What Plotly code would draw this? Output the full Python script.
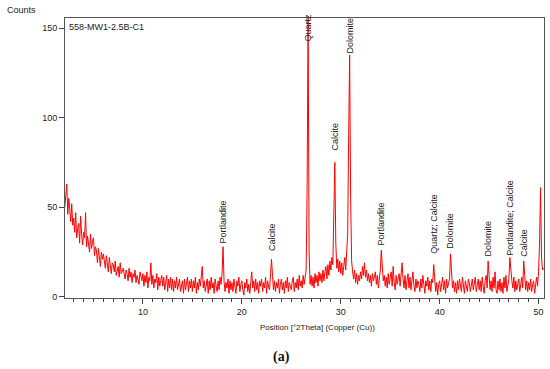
import plotly.graph_objects as go
import numpy as np

# Measurement grid (°2Theta)
theta_start = 2.1
theta_step = 0.1

# Counts, one row per degree
counts = [
    50, 58, 63, 46, 55, 49, 42, 52, 40,            # 2.1-2.9
    44, 36, 47, 33, 38, 41, 30, 45, 35, 29,        # 3
    36, 33, 47, 28, 34, 30, 25, 35, 27, 31,        # 4
    33, 23, 28, 26, 19, 27, 22, 17, 25, 21,        # 5
    24, 18, 16, 23, 19, 14, 22, 17, 13, 19,        # 6
    18, 14, 20, 12, 15, 17, 11, 19, 13, 14,        # 7
    16, 12, 10, 15, 13, 9, 16, 11, 14, 8,          # 8
    13, 11, 15, 8, 12, 10, 7, 14, 11, 9,           # 9
    13, 6, 12, 8, 14, 5, 11, 9, 19, 7,             # 10
    12, 5, 10, 8, 13, 4, 11, 6, 9, 12,             # 11
    6, 11, 4, 9, 12, 3, 10, 5, 11, 4,              # 12
    10, 3, 9, 5, 11, 4, 8, 10, 3, 7,               # 13
    9, 2, 10, 4, 8, 11, 3, 9, 5, 10,               # 14
    3, 9, 5, 11, 2, 8, 4, 10, 6, 12,               # 15
    17, 5, 9, 3, 8, 10, 2, 9, 4, 11,               # 16
    5, 8, 2, 10, 6, 3, 9, 4, 11, 7,                # 17
    13, 28, 9, 3, 8, 5, 10, 2, 9, 4,               # 18
    8, 3, 10, 5, 2, 9, 6, 11, 3, 7,                # 19
    9, 4, 1, 8, 5, 10, 3, 7, 2, 8,                 # 20
    14, 5, 9, 3, 10, 4, 8, 2, 9, 6,                # 21
    10, 3, 8, 5, 11, 2, 9, 6, 4, 13,               # 22
    21, 12, 4, 9, 3, 8, 5, 10, 2, 7,               # 23
    10, 4, 8, 2, 9, 5, 11, 3, 8, 6,                # 24
    4, 9, 11, 3, 8, 5, 10, 4, 12, 6,               # 25
    9, 5, 12, 7, 11, 15, 60, 158, 25, 7,           # 26
    12, 6, 11, 5, 13, 8, 12, 6, 14, 9,             # 27
    13, 8, 15, 9, 14, 17, 10, 18, 12, 20,          # 28
    15, 22, 18, 40, 75, 30, 16, 21, 14, 20,        # 29
    13, 19, 12, 17, 22, 15, 24, 35, 90, 135,       # 30
    55, 20, 14, 10, 15, 8, 13, 7, 12, 9,           # 31
    14, 10, 17, 12, 19, 11, 15, 9, 13, 8,          # 32
    12, 6, 13, 9, 11, 14, 7, 12, 5, 11,            # 33
    15, 26, 19, 9, 12, 6, 11, 5, 13, 7,            # 34
    11, 14, 6, 17, 8, 4, 12, 7, 10, 13,            # 35
    6, 14, 19, 10, 5, 12, 4, 9, 13, 5,             # 36
    11, 4, 9, 14, 6, 3, 10, 5, 9, 7,               # 37
    3, 10, 5, 12, 7, 2, 9, 6, 11, 4,               # 38
    9, 3, 10, 8, 18, 6, 3, 8, 1, 7,                # 39
    9, 3, 8, 11, 4, 9, 2, 10, 5, 7,                # 40
    10, 24, 13, 5, 9, 3, 8, 2, 9, 4,               # 41
    10, 5, 3, 11, 6, 2, 9, 5, 3, 10,               # 42
    8, 3, 6, 10, 4, 8, 11, 3, 7, 10,               # 43
    4, 9, 3, 11, 6, 2, 9, 12, 5, 20,               # 44
    12, 4, 9, 3, 11, 5, 14, 4, 2, 9,               # 45
    4, 10, 3, 8, 2, 11, 5, 12, 3, 8,               # 46
    10, 22, 14, 9, 5, 11, 3, 9, 4, 7,              # 47
    10, 3, 8, 11, 5, 20, 12, 4, 9, 3,              # 48
    8, 4, 10, 3, 7, 9, 2, 8, 11, 6,                # 49
    14, 30, 61, 22, 15, 16,                        # 50
]

# Phase labels: position, label baseline (counts), text
label_pos = [18.1, 23.05, 26.7, 29.4, 30.9, 34.1, 39.4, 41.1, 44.9, 47.1, 48.5]
label_y = [29, 25, 142, 81, 135, 28, 23.4, 26, 22, 22.3, 21.7]
label_text = ["Portlandite", "Calcite", "Quartz", "Calcite", "Dolomite", "Portlandite",
              "Quartz; Calcite", "Dolomite", "Dolomite", "Portlandite; Calcite", "Calcite"]

two_theta = np.round(theta_start + theta_step * np.arange(len(counts)), 2)

FONT = "Liberation Sans"
fig = go.Figure()
fig.add_trace(go.Scatter(x=two_theta, y=counts, mode="lines",
                         line=dict(color="#ff0000", width=1), showlegend=False))

for px, py, t in zip(label_pos, label_y, label_text):
    fig.add_annotation(x=px, y=py, text=t, textangle=-90, showarrow=False,
                       xanchor="center", yanchor="bottom", borderpad=0,
                       font=dict(family=FONT, size=9, color="#222"))

fig.add_annotation(xref="paper", yref="paper", x=-0.125, y=1.03, text="Counts",
                   showarrow=False, xanchor="left", yanchor="middle",
                   font=dict(family=FONT, size=9, color="#222"))
fig.add_annotation(xref="paper", yref="paper", x=0.004, y=0.992, text="558-MW1-2.5B-C1",
                   showarrow=False, xanchor="left", yanchor="top",
                   font=dict(family=FONT, size=9, color="#222"))
fig.add_annotation(xref="paper", yref="paper", x=0.528, y=-0.107,
                   text="Position [°2Theta] (Copper (Cu))",
                   showarrow=False, xanchor="center", yanchor="middle",
                   font=dict(family=FONT, size=8, color="#222"))
fig.add_annotation(xref="paper", yref="paper", x=0.453, y=-0.211, text="<b>(a)</b>",
                   showarrow=False, xanchor="center", yanchor="middle",
                   font=dict(family="Liberation Serif", size=14, color="#111"))

fig.update_xaxes(range=[2.12, 50.55], tickvals=[10, 20, 30, 40, 50],
                 ticks="outside", ticklen=5, tickcolor="#444",
                 minor=dict(dtick=1, tick0=0, ticks="outside", ticklen=3, tickcolor="#444"),
                 showline=True, linecolor="#555", linewidth=1, mirror=True,
                 showgrid=False, zeroline=False,
                 tickfont=dict(family=FONT, size=9, color="#222"))
fig.update_yaxes(range=[-0.6, 155.6], tickvals=[0, 50, 100, 150],
                 ticks="outside", ticklen=5, tickcolor="#444",
                 showline=True, linecolor="#555", linewidth=1, mirror=True,
                 showgrid=False, zeroline=False,
                 tickfont=dict(family=FONT, size=9, color="#222"))

fig.update_layout(width=550, height=369, margin=dict(l=65, r=6, t=18, b=71),
                  paper_bgcolor="white", plot_bgcolor="white")

fig.write_html("out.html", config={"displayModeBar": False},
               post_script="document.body.style.margin='0';")
